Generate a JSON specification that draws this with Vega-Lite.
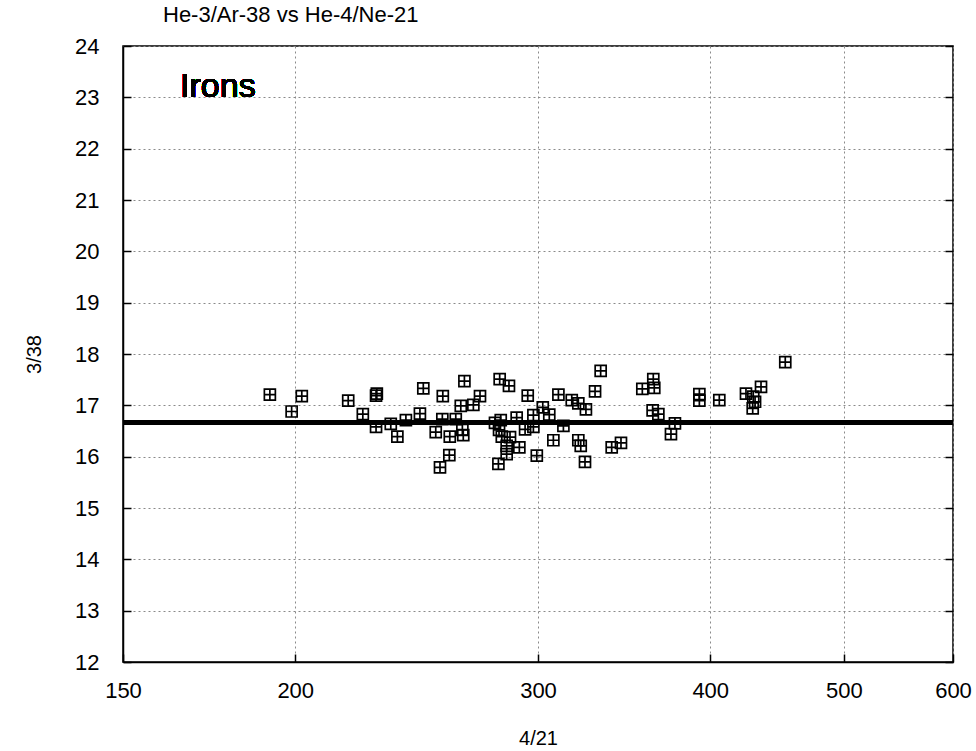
{
  "$schema": "https://vega.github.io/schema/vega-lite/v6.json",
  "width": 830,
  "height": 616,
  "autosize": "none",
  "padding": {"left": 123, "top": 46, "right": 23, "bottom": 89},
  "background": "white",
  "config": {
    "font": "Liberation Sans",
    "view": {"stroke": "black", "strokeWidth": 1.5},
    "axis": {
      "domainColor": "black",
      "domainWidth": 1.5,
      "tickColor": "black",
      "tickWidth": 1.5,
      "labelColor": "black",
      "titleColor": "black",
      "titleFontWeight": "normal",
      "gridColor": "#8a8a8a",
      "gridDash": [2, 3],
      "gridWidth": 1,
      "labelFlush": false,
      "labelOverlap": false
    }
  },
  "title": {
    "text": "He-3/Ar-38 vs He-4/Ne-21",
    "anchor": "start",
    "frame": "group",
    "dx": 40,
    "offset": 8,
    "fontSize": 22,
    "fontWeight": "normal",
    "color": "black"
  },
  "resolve": {"axis": {"y": "independent"}},
  "data": {
    "values": [
      {"r421": 191.7, "r338": 17.21},
      {"r421": 198.8, "r338": 16.88},
      {"r421": 202.2, "r338": 17.18},
      {"r421": 218.5, "r338": 17.09},
      {"r421": 223.9, "r338": 16.83},
      {"r421": 228.9, "r338": 17.19},
      {"r421": 229.2, "r338": 17.23},
      {"r421": 228.9, "r338": 16.58},
      {"r421": 234.6, "r338": 16.64},
      {"r421": 237.2, "r338": 16.39},
      {"r421": 240.6, "r338": 16.71},
      {"r421": 246.3, "r338": 16.84},
      {"r421": 247.7, "r338": 17.33},
      {"r421": 252.9, "r338": 16.48},
      {"r421": 254.7, "r338": 15.79},
      {"r421": 255.7, "r338": 16.73},
      {"r421": 255.9, "r338": 17.18},
      {"r421": 258.7, "r338": 16.03},
      {"r421": 258.9, "r338": 16.39},
      {"r421": 261.5, "r338": 16.73},
      {"r421": 263.7, "r338": 16.99},
      {"r421": 264.4, "r338": 16.52},
      {"r421": 264.8, "r338": 16.42},
      {"r421": 265.3, "r338": 17.47},
      {"r421": 269.3, "r338": 17.01},
      {"r421": 272.3, "r338": 17.18},
      {"r421": 279.2, "r338": 16.66},
      {"r421": 281.9, "r338": 16.71},
      {"r421": 281.1, "r338": 16.52},
      {"r421": 282.4, "r338": 16.39},
      {"r421": 286.3, "r338": 16.38},
      {"r421": 284.7, "r338": 16.21},
      {"r421": 284.7, "r338": 16.05},
      {"r421": 280.8, "r338": 15.86},
      {"r421": 281.4, "r338": 17.51},
      {"r421": 285.8, "r338": 17.38},
      {"r421": 290.8, "r338": 16.18},
      {"r421": 289.5, "r338": 16.76},
      {"r421": 293.6, "r338": 16.53},
      {"r421": 294.9, "r338": 17.19},
      {"r421": 297.7, "r338": 16.81},
      {"r421": 297.7, "r338": 16.58},
      {"r421": 299.4, "r338": 16.02},
      {"r421": 302.4, "r338": 16.96},
      {"r421": 305.7, "r338": 16.82},
      {"r421": 307.8, "r338": 16.32},
      {"r421": 310.4, "r338": 17.21},
      {"r421": 313.0, "r338": 16.60},
      {"r421": 317.4, "r338": 17.10},
      {"r421": 320.9, "r338": 17.04},
      {"r421": 325.0, "r338": 16.92},
      {"r421": 320.9, "r338": 16.32},
      {"r421": 322.2, "r338": 16.21},
      {"r421": 324.5, "r338": 15.90},
      {"r421": 330.0, "r338": 17.27},
      {"r421": 333.1, "r338": 17.67},
      {"r421": 339.3, "r338": 16.18},
      {"r421": 344.6, "r338": 16.27},
      {"r421": 357.1, "r338": 17.32},
      {"r421": 363.7, "r338": 17.51},
      {"r421": 364.3, "r338": 17.34},
      {"r421": 363.3, "r338": 16.90},
      {"r421": 366.8, "r338": 16.83},
      {"r421": 377.1, "r338": 16.65},
      {"r421": 374.6, "r338": 16.44},
      {"r421": 392.8, "r338": 17.22},
      {"r421": 392.8, "r338": 17.09},
      {"r421": 406.1, "r338": 17.10},
      {"r421": 424.6, "r338": 17.23},
      {"r421": 429.8, "r338": 17.17},
      {"r421": 431.1, "r338": 17.07},
      {"r421": 429.4, "r338": 16.94},
      {"r421": 435.4, "r338": 17.36},
      {"r421": 453.4, "r338": 17.84}
    ]
  },
  "layer": [
    {
      "mark": {"type": "point", "shape": "M-1,-1H1V1H-1Z M0,-1V1 M-1,0H1", "filled": false, "stroke": "black", "strokeWidth": 1.7, "size": 121, "opacity": 1},
      "encoding": {
        "x": {
          "field": "r421", "type": "quantitative",
          "scale": {"type": "log", "domain": [150, 600], "nice": false, "zero": false},
          "axis": {"values": [150, 200, 300, 400, 500, 600], "format": "d", "tickSize": -8, "labelPadding": 26, "labelFontSize": 22, "title": "4/21", "titleFontSize": 20, "titlePadding": 27, "grid": true}
        },
        "y": {
          "field": "r338", "type": "quantitative",
          "scale": {"domain": [12, 24], "nice": false, "zero": false},
          "axis": {"orient": "left", "values": [12, 13, 14, 15, 16, 17, 18, 19, 20, 21, 22, 23, 24], "tickSize": -8, "labelPadding": 32, "labelFontSize": 22, "title": "3/38", "titleFontSize": 20, "titlePadding": 30, "grid": true}
        }
      }
    },
    {
      "mark": {"type": "rule", "color": "black", "strokeWidth": 4},
      "encoding": {
        "y": {"datum": 16.67, "type": "quantitative", "axis": {"orient": "right", "values": [12, 13, 14, 15, 16, 17, 18, 19, 20, 21, 22, 23, 24], "labels": false, "grid": false, "domain": false, "tickSize": -8, "title": null}}
      }
    },
    {
      "mark": {"type": "text", "text": "Irons", "fontSize": 34, "align": "left", "baseline": "middle", "color": "black"},
      "encoding": {
        "x": {"datum": 165, "type": "quantitative"},
        "y": {"datum": 23.2, "type": "quantitative", "axis": null}
      }
    }
  ]
}
